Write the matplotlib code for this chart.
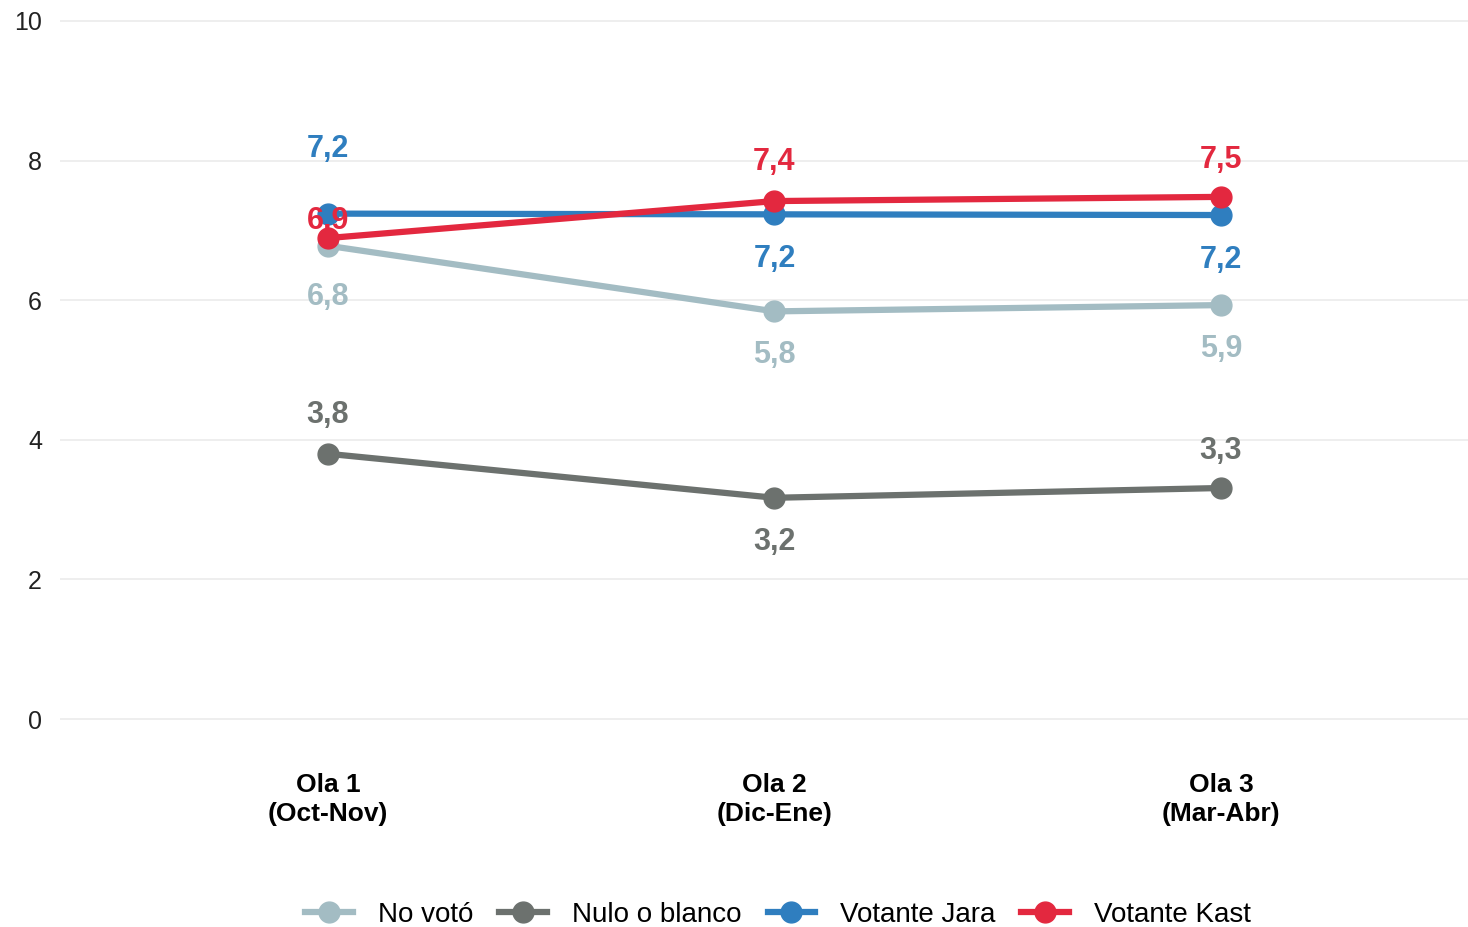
import numpy as np
import matplotlib.pyplot as plt
from matplotlib.lines import Line2D

plt.rcParams['font.family'] = ['Liberation Sans', 'DejaVu Sans']

# datos
olas = ['Ola 1\n(Oct-Nov)', 'Ola 2\n(Dic-Ene)', 'Ola 3\n(Mar-Abr)']
no_voto = [6.78, 5.84, 5.93]
nulo_blanco = [3.80, 3.17, 3.31]
votante_jara = [7.24, 7.23, 7.22]
votante_kast = [6.89, 7.42, 7.48]
grupos = ['No votó', 'Nulo o blanco', 'Votante Jara', 'Votante Kast']

colores = ['#a3bcc3', '#6c716e', '#2f7ebf', '#e3283f']
series = [no_voto, nulo_blanco, votante_jara, votante_kast]
# desplazamiento vertical de las etiquetas (pixeles)
offs = [[-51, -44, -44], [39, -44, 37], [65, -45, -45], [17, 39, 37]]

fig = plt.figure(figsize=(14.68, 9.27), dpi=100)
ax = fig.add_axes([60/1468, 1 - 754/927, 1408/1468, 754/927])
x = np.arange(1, len(olas) + 1)

for ser, col, off in zip(series, colores, offs):
    ax.plot(x, ser, color=col, lw=4.5, marker='o', ms=15, zorder=3)
    for xi, v, o in zip(x, ser, off):
        ax.annotate(f'{v:.1f}'.replace('.', ','), (xi, v), xytext=(0, o),
                    textcoords='offset pixels', ha='center', va='center',
                    fontsize=22, fontweight='bold', color=col, zorder=4)

ax.set_xlim(0.4, 3 + (1468 - 1221) / 446.5)
ax.set_ylim(-0.5, 10.3)
ax.set_yticks([0, 2, 4, 6, 8, 10])
ax.set_xticks(x)
ax.set_xticklabels(olas, fontweight='bold', fontsize=19, color='black')
for t in ax.get_xticklabels():
    t.set_linespacing(1.25)
ax.tick_params(axis='both', length=0)
ax.tick_params(axis='x', pad=14)
ax.tick_params(axis='y', labelsize=18, labelcolor='#222222', pad=13)
for s in ax.spines.values():
    s.set_visible(False)
ax.grid(axis='y', color='#ebebeb', lw=1.2)
ax.set_axisbelow(True)
ax.set_facecolor('white')

handles = [Line2D([], [], color=c, lw=4.5, marker='o', ms=15) for c in colores]
fig.legend(handles, grupos, loc='center', bbox_to_anchor=(778/1468, 1 - 915/927),
           ncol=4, frameon=False, fontsize=20, handlelength=1.7,
           columnspacing=0.95, handletextpad=0.9)

fig.savefig('out.png', dpi=100)
